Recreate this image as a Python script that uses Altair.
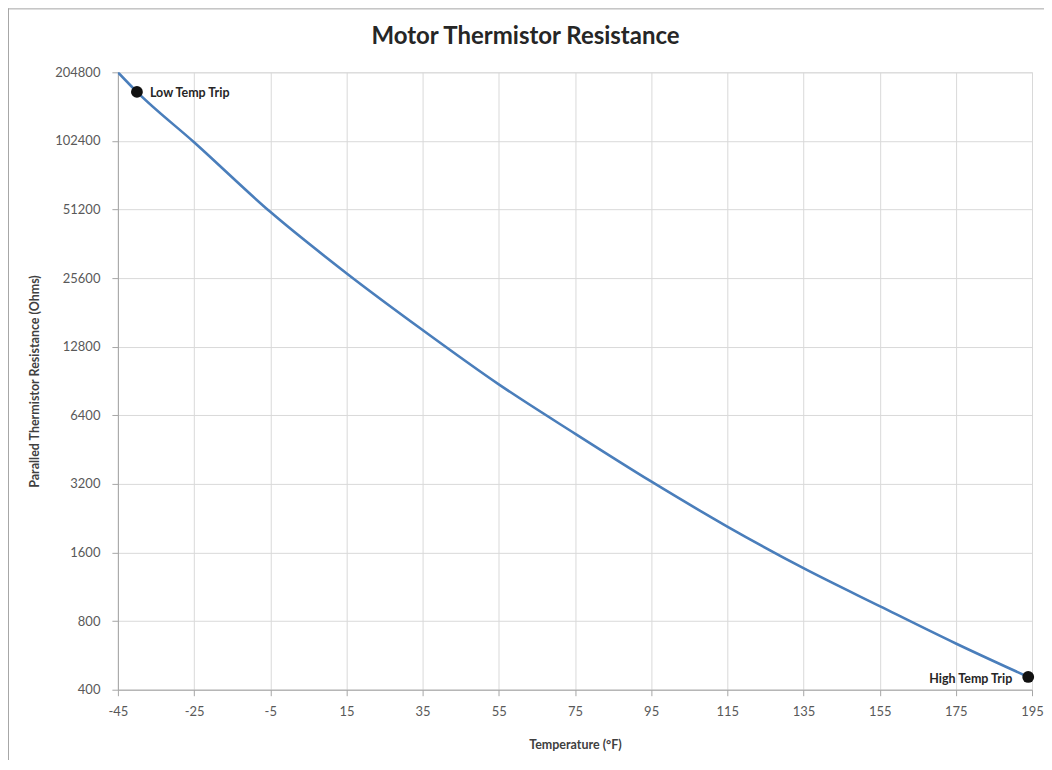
import altair as alt
import pandas as pd

# Curve data
temps_f = [-45, -40, -25, -5, 15, 35, 55, 75, 95, 115, 135, 155, 175, 194]
resistance = [205000, 168000, 101000, 50000, 26900, 15150, 8750, 5320, 3280, 2080, 1366, 931, 638, 455]

# Trip points
trip_labels = ["Low Temp Trip", "High Temp Trip"]
trip_temps = [-40, 194]
trip_res = [168000, 455]

x_ticks = [-45, -25, -5, 15, 35, 55, 75, 95, 115, 135, 155, 175, 195]
y_ticks = [400, 800, 1600, 3200, 6400, 12800, 25600, 51200, 102400, 204800]

chart_title = ["Motor Thermistor Resistance"]

curve = pd.DataFrame({"temp": temps_f, "res": resistance})
trips = pd.DataFrame({"label": trip_labels, "temp": trip_temps, "res": trip_res})
title_df = pd.DataFrame({"t": chart_title})

FONT = "Lato"
LABEL_COLOR = "#595959"

x_scale = alt.Scale(domain=[-45, 195], nice=False, zero=False)
y_scale = alt.Scale(type="log", base=2, domain=[400, 204800], nice=False)

x_axis = alt.Axis(values=x_ticks, title="Temperature (°F)", labelExpr="'' + datum.value",
                  grid=True, gridColor="#d9d9d9", gridWidth=1,
                  domainColor="#a6a6a6", tickColor="#a6a6a6", tickSize=6,
                  labelFont=FONT, labelFontSize=13, labelColor=LABEL_COLOR,
                  labelPadding=10, labelFlush=False,
                  titleFont=FONT, titleFontSize=12.5, titleFontWeight="bold",
                  titleColor="#404040", titlePadding=20)

y_axis = alt.Axis(values=y_ticks, title="Paralled Thermistor Resistance (Ohms)", labelExpr="'' + datum.value",
                  grid=True, gridColor="#d9d9d9", gridWidth=1,
                  domainColor="#a6a6a6", tickColor="#a6a6a6", tickSize=6,
                  labelFont=FONT, labelFontSize=13, labelColor=LABEL_COLOR,
                  labelPadding=12, labelFlush=False,
                  titleFont=FONT, titleFontSize=12.5, titleFontWeight="bold",
                  titleColor="#404040", titlePadding=13)

line = alt.Chart(curve).mark_line(color="#4a7ebb", strokeWidth=2.6, interpolate="monotone", clip=True).encode(
    x=alt.X("temp:Q", scale=x_scale, axis=x_axis),
    y=alt.Y("res:Q", scale=y_scale, axis=y_axis),
)

points = alt.Chart(trips).mark_circle(color="#111111", size=140, opacity=1).encode(
    x=alt.X("temp:Q", scale=x_scale),
    y=alt.Y("res:Q", scale=y_scale),
)

low_text = alt.Chart(trips).transform_filter(alt.datum.label == "Low Temp Trip").mark_text(
    align="left", baseline="middle", dx=13, dy=1, font=FONT, fontSize=12.5, fontWeight="bold", color="#262626"
).encode(
    x=alt.X("temp:Q", scale=x_scale),
    y=alt.Y("res:Q", scale=y_scale),
    text="label:N",
)

high_text = alt.Chart(trips).transform_filter(alt.datum.label == "High Temp Trip").mark_text(
    align="right", baseline="middle", dx=-16, dy=2, font=FONT, fontSize=12.5, fontWeight="bold", color="#262626"
).encode(
    x=alt.X("temp:Q", scale=x_scale),
    y=alt.Y("res:Q", scale=y_scale),
    text="label:N",
)

title_text = alt.Chart(title_df).mark_text(
    align="center", baseline="middle", font=FONT, fontSize=24, fontWeight="bold", color="#262626"
).encode(x=alt.value(408), y=alt.value(-35), text="t:N")

# Chart-area border (left and top edges visible in reference)
border_left = alt.Chart(title_df).mark_rule(color="#a6a6a6", strokeWidth=1).encode(
    x=alt.value(-109.5), y=alt.value(-64), y2=alt.value(700)
)
border_top = alt.Chart(title_df).mark_rule(color="#a6a6a6", strokeWidth=1).encode(
    x=alt.value(-110), x2=alt.value(940), y=alt.value(-63.5)
)

chart = alt.layer(line, points, low_text, high_text, title_text, border_left, border_top).properties(
    width=915,
    height=618,
    autosize=alt.AutoSizeParams(type="none"),
    padding={"left": 110, "top": 64, "right": 12, "bottom": 70},
).configure_view(stroke=None).configure(background="white")

chart.save("out.html", embed_options={"renderer": "svg", "actions": False})
